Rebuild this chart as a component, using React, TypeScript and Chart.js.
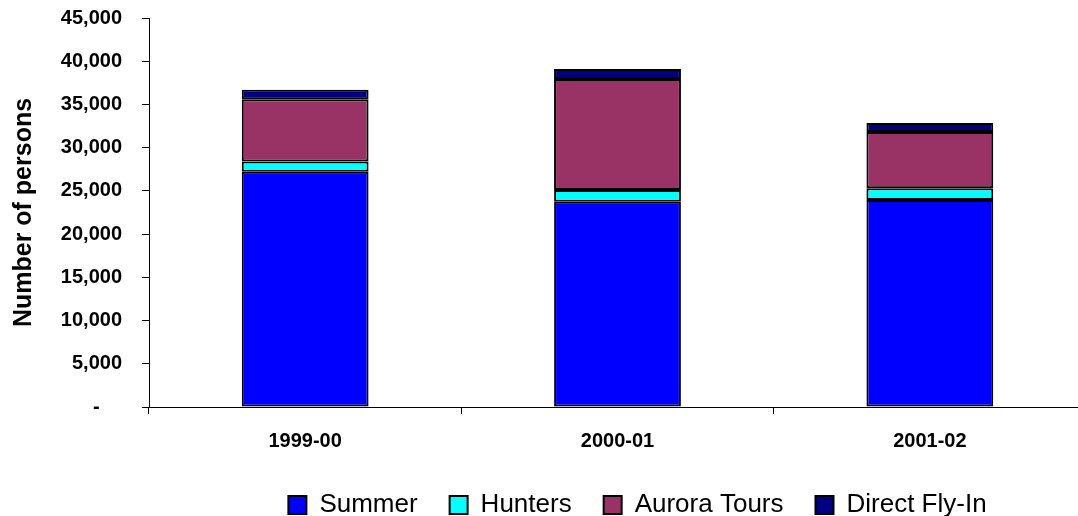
import React, { useEffect, useRef } from "react";
import { Chart, registerables } from "chart.js";

Chart.register(...registerables);

const categories = ["1999-00", "2000-01", "2001-02"];
const summer = [27200, 23750, 23950];
const hunters = [1200, 1350, 1350];
const aurora = [7200, 12850, 6500];
const directFlyIn = [1100, 1150, 1050];
const yTicks = [0, 5000, 10000, 15000, 20000, 25000, 30000, 35000, 40000, 45000];

const FONT = "'Liberation Sans', Arial, sans-serif";

const legendShift = {
  id: "legendShift",
  afterLayout(chart: any) {
    const lg = chart.legend;
    if (!lg) return;
    const dx = 20;
    const dy = 12;
    lg.left += dx;
    lg.right += dx;
    lg.top += dy;
    lg.bottom += dy;
  },
};

export default function App() {
  const ref = useRef<HTMLCanvasElement | null>(null);

  useEffect(() => {
    document.body.style.margin = "0";
    const canvas = ref.current;
    if (!canvas) return;
    const mk = (label: string, data: number[], color: string) => ({
      label,
      data,
      backgroundColor: color,
      borderColor: "#000000",
      borderWidth: 2,
      borderSkipped: false as const,
      barPercentage: 0.406,
      categoryPercentage: 1,
    });
    const chart = new Chart(canvas, {
      type: "bar",
      data: {
        labels: categories,
        datasets: [
          mk("Summer", summer, "#0000FF"),
          mk("Hunters", hunters, "#00FFFF"),
          mk("Aurora Tours", aurora, "#993366"),
          mk("Direct Fly-In", directFlyIn, "#000080"),
        ],
      },
      plugins: [legendShift],
      options: {
        responsive: false,
        animation: false,
        layout: { padding: { top: 18, left: 0, right: 0, bottom: 0 } },
        plugins: {
          tooltip: { enabled: false },
          legend: {
            position: "bottom",
            fullSize: false,
            labels: {
              boxWidth: 18,
              boxHeight: 18,
              padding: 32,
              color: "#000",
              font: { family: FONT, size: 26 },
            },
          },
        },
        scales: {
          x: {
            stacked: true,
            offset: true,
            border: { color: "#000", width: 1 },
            grid: {
              offset: true,
              drawOnChartArea: false,
              drawTicks: true,
              tickLength: 7,
              color: "#000",
            },
            ticks: {
              color: "#000",
              padding: 15,
              maxRotation: 0,
              font: { family: FONT, size: 20, weight: "bold" },
            },
            afterFit: (s: any) => {
              s.height = 41;
            },
          },
          y: {
            stacked: true,
            min: 0,
            max: 45000,
            afterBuildTicks: (s: any) => {
              s.ticks = yTicks.map((v) => ({ value: v }));
            },
            border: { color: "#000", width: 1 },
            grid: {
              drawOnChartArea: false,
              drawTicks: true,
              tickLength: 7,
              color: "#000",
            },
            ticks: {
              color: "#000",
              padding: 20,
              font: { family: FONT, size: 20, weight: "bold" },
              callback: (v: any) =>
                Number(v) === 0 ? "-    " : Number(v).toLocaleString("en-US"),
            },
            title: {
              display: true,
              text: "Number of persons",
              color: "#000",
              padding: { top: 9, bottom: 0 },
              font: { family: FONT, size: 25, weight: "bold" },
            },
            afterFit: (s: any) => {
              s.width = 149;
              s.paddingTop = 0;
              s.paddingBottom = 0;
            },
          },
        },
      },
    });
    return () => chart.destroy();
  }, []);

  return (
    <div style={{ width: 1078, height: 516, overflow: "hidden", background: "#fff" }}>
      <canvas ref={ref} width={1086} height={516} style={{ display: "block" }} />
    </div>
  );
}
